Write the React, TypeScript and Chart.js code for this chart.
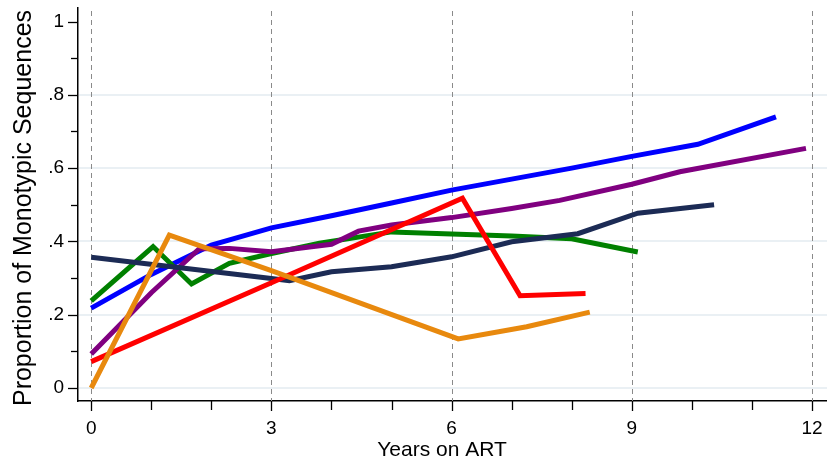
import React, { useEffect, useRef } from "react";
import { Chart, registerables } from "chart.js";

Chart.register(...registerables);

// ---- data ----
const blueX = [0, 1, 2, 3, 4, 5, 6, 7, 8, 9, 10.1, 11.4];
const blueY = [0.218, 0.31, 0.39, 0.437, 0.47, 0.505, 0.54, 0.57, 0.6, 0.632, 0.665, 0.74];

const greenX = [0, 1.03, 1.67, 2.3, 3, 3.8, 5, 6, 7, 8, 9.1];
const greenY = [0.238, 0.386, 0.284, 0.34, 0.367, 0.395, 0.426, 0.42, 0.415, 0.407, 0.371];

const purpleX = [0, 1, 1.8, 2.3, 3, 4, 4.45, 5, 6, 7, 7.8, 9, 9.8, 11.9];
const purpleY = [0.093, 0.26, 0.38, 0.381, 0.372, 0.392, 0.428, 0.445, 0.465, 0.49, 0.512, 0.556, 0.59, 0.654];

const navyX = [0, 3, 3.3, 4, 5, 6, 7, 8.1, 9.1, 10.37];
const navyY = [0.357, 0.299, 0.293, 0.317, 0.331, 0.358, 0.399, 0.421, 0.477, 0.5];

const redX = [0, 3, 6.18, 7.14, 8.23];
const redY = [0.072, 0.287, 0.518, 0.252, 0.258];

const orangeX = [0, 1.3, 3, 6.11, 7.25, 8.3];
const orangeY = [0.0, 0.417, 0.32, 0.134, 0.167, 0.207];

const xTickValues = [0, 1, 2, 3, 4, 5, 6, 7, 8, 9, 10, 11, 12];
const xTickLabels = ["0", "", "", "3", "", "", "6", "", "", "9", "", "", "12"];
const yTickValues = [0, 0.1, 0.2, 0.3, 0.4, 0.5, 0.6, 0.7, 0.8, 0.9, 1];
const yTickLabels = ["0", "", ".2", "", ".4", "", ".6", "", ".8", "", "1"];
const yGridValues = [0, 0.2, 0.4, 0.6, 0.8];
const xGridValues = [0, 3, 6, 9, 12];

const xTitle = "Years on ART";
const yTitle = "Proportion of Monotypic Sequences";

const FONT = '"Liberation Sans", Arial, Helvetica, sans-serif';

const toPts = (xs: number[], ys: number[]) => xs.map((x, i) => ({ x, y: ys[i] }));

const decor = {
  id: "stataDecor",
  beforeDatasetsDraw(chart: any) {
    const { ctx, chartArea, scales } = chart;
    const x = scales.x;
    const y = scales.y;
    ctx.save();
    ctx.strokeStyle = "#eaf0f4";
    ctx.lineWidth = 2;
    for (const v of yGridValues) {
      const py = Math.round(y.getPixelForValue(v));
      ctx.beginPath();
      ctx.moveTo(chartArea.left + 1, py);
      ctx.lineTo(chartArea.right, py);
      ctx.stroke();
    }
    ctx.strokeStyle = "#8a8a8a";
    ctx.lineWidth = 1;
    ctx.setLineDash([5, 4]);
    for (const v of xGridValues) {
      const px = Math.round(x.getPixelForValue(v)) + 0.5;
      ctx.beginPath();
      ctx.moveTo(px, chartArea.top + 3);
      ctx.lineTo(px, chartArea.bottom);
      ctx.stroke();
    }
    ctx.restore();
  },
  afterDraw(chart: any) {
    const { ctx, chartArea, scales } = chart;
    const x = scales.x;
    const y = scales.y;
    ctx.save();
    ctx.strokeStyle = "#000";
    ctx.lineWidth = 1.3;
    yTickValues.forEach((v, i) => {
      const py = Math.round(y.getPixelForValue(v)) + 0.5;
      const len = yTickLabels[i] ? 10 : 7;
      ctx.beginPath();
      ctx.moveTo(chartArea.left - len, py);
      ctx.lineTo(chartArea.left, py);
      ctx.stroke();
    });
    xTickValues.forEach((v, i) => {
      const px = Math.round(x.getPixelForValue(v)) + 0.5;
      const len = xTickLabels[i] ? 10 : 9;
      ctx.beginPath();
      ctx.moveTo(px, chartArea.bottom);
      ctx.lineTo(px, chartArea.bottom + len);
      ctx.stroke();
    });
    ctx.fillStyle = "#000";
    ctx.textAlign = "center";
    ctx.textBaseline = "alphabetic";
    ctx.font = `21px ${FONT}`;
    ctx.fillText(xTitle, 442, 456);
    ctx.translate(31, 208);
    ctx.rotate(-Math.PI / 2);
    ctx.font = `25px ${FONT}`;
    ctx.fillText(yTitle, 0, 0);
    ctx.restore();
  },
};

export default function App() {
  const ref = useRef<HTMLCanvasElement | null>(null);
  useEffect(() => {
    if (!ref.current) return;
    const mk = (label: string, xs: number[], ys: number[], color: string, order: number) => ({
      label,
      data: toPts(xs, ys),
      borderColor: color,
      backgroundColor: color,
      borderWidth: 5,
      pointRadius: 0,
      tension: 0,
      fill: false,
      order,
      borderJoinStyle: "miter" as const,
      borderCapStyle: "butt" as const,
    });
    const chart = new Chart(ref.current, {
      type: "line",
      data: {
        datasets: [
          mk("blue", blueX, blueY, "#0000ff", 6),
          mk("green", greenX, greenY, "#008000", 5),
          mk("purple", purpleX, purpleY, "#800080", 4),
          mk("navy", navyX, navyY, "#1c2b55", 3),
          mk("red", redX, redY, "#ff0000", 2),
          mk("orange", orangeX, orangeY, "#e8890e", 1),
        ],
      },
      options: {
        responsive: false,
        maintainAspectRatio: false,
        animation: false,
        layout: { padding: { top: 8, right: 0, left: 0, bottom: 0 } },
        plugins: { legend: { display: false }, tooltip: { enabled: false } },
        scales: {
          x: {
            type: "linear",
            min: -0.22,
            max: 12.25,
            grid: { display: false, drawTicks: false },
            border: { display: true, color: "#000", width: 1.5 },
            afterBuildTicks: (s: any) => {
              s.ticks = xTickValues.map((v) => ({ value: v }));
            },
            afterFit: (s: any) => {
              s.height = 60;
              s.paddingLeft = 0;
              s.paddingRight = 0;
            },
            ticks: {
              autoSkip: false,
              maxRotation: 0,
              padding: 16,
              color: "#000",
              font: { family: FONT, size: 19 },
              callback: (_v: any, i: number) => xTickLabels[i],
            },
          },
          y: {
            type: "linear",
            min: -0.0355,
            max: 1.037,
            grid: { display: false, drawTicks: false },
            border: { display: true, color: "#000", width: 1.5 },
            afterBuildTicks: (s: any) => {
              s.ticks = yTickValues.map((v) => ({ value: v }));
            },
            afterFit: (s: any) => {
              s.width = 78;
              s.paddingTop = 0;
              s.paddingBottom = 0;
            },
            ticks: {
              autoSkip: false,
              padding: 14,
              color: "#000",
              font: { family: FONT, size: 19 },
              callback: (_v: any, i: number) => yTickLabels[i],
            },
          },
        },
      },
      plugins: [decor],
    } as any);
    return () => chart.destroy();
  }, []);
  return (
    <div style={{ position: "absolute", left: 0, top: 0, width: 827, height: 461, background: "#fff" }}>
      <canvas ref={ref} width={827} height={461} />
    </div>
  );
}
